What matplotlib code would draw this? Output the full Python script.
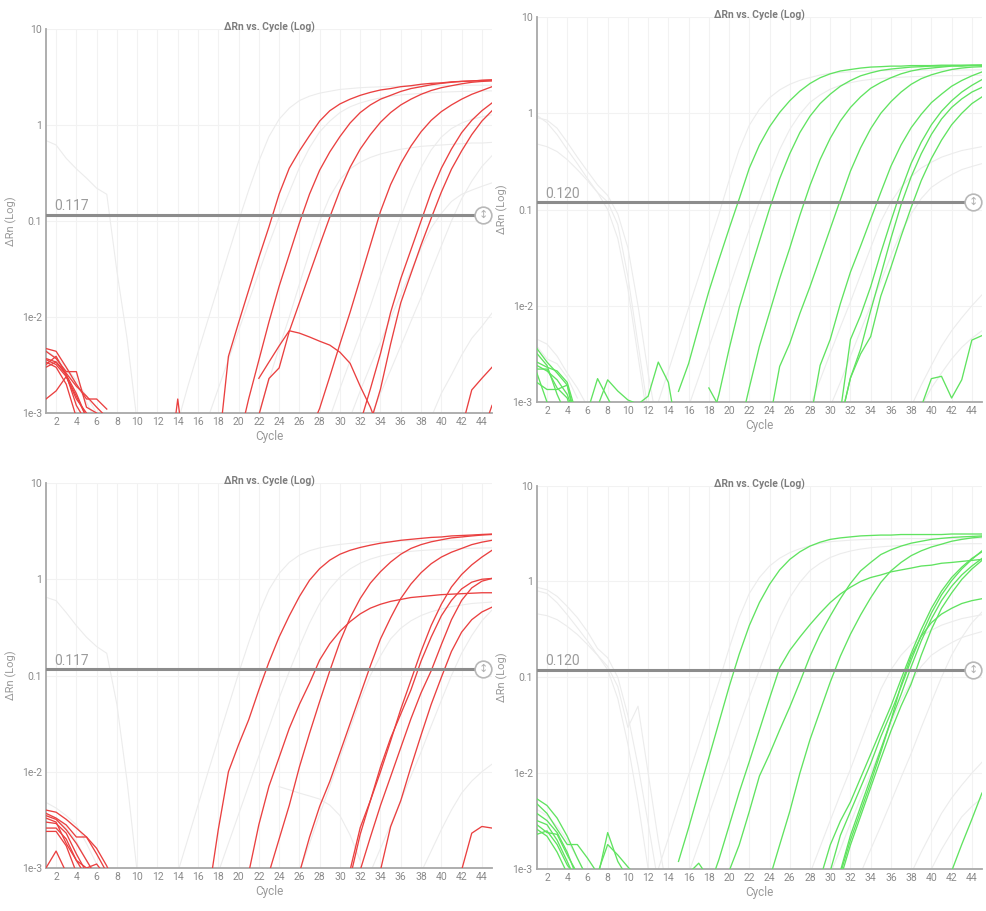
import numpy as np
import matplotlib.pyplot as plt

plt.rcParams['font.family'] = ['Roboto', 'DejaVu Sans']

RED = '#ea4040'
GREEN = '#60e360'
GREY = '#ececec'

title = 'ΔRn vs. Cycle (Log)'
x_ticks = list(range(2, 46, 2))
y_ticks = [1e-3, 1e-2, 0.1, 1, 10]
y_tick_labels = ['1e-3', '1e-2', '0.1', '1', '10']

thresholds = [0.117, 0.120, 0.117, 0.120]
threshold_labels = ['0.117', '0.120', '0.117', '0.120']

# ---- top left (red) : first cycle of each trace, then dRn per cycle
tl_red_start = [18, 20, 22, 27, 32, 33, 22, 42, 44, 13, 1, 1, 1, 1, 1, 1, 1, 1]
tl_red = [
    [4.0e-4, 3.89e-3, 8.71e-3, 0.0191, 0.0417, 0.0871, 0.191, 0.355, 0.537, 0.776, 1.10, 1.41, 1.66, 1.86, 2.04, 2.19, 2.32, 2.40, 2.51, 2.57, 2.66, 2.72, 2.75, 2.82, 2.85, 2.88, 2.92, 2.95],
    [5.0e-4, 1.41e-3, 3.55e-3, 8.91e-3, 0.0209, 0.0447, 0.0955, 0.191, 0.339, 0.525, 0.759, 1.05, 1.35, 1.62, 1.86, 2.04, 2.24, 2.40, 2.51, 2.63, 2.72, 2.79, 2.85, 2.88, 2.92, 2.95],
    [9.5e-4, 2.29e-3, 2.95e-3, 7.08e-3, 0.0141, 0.0282, 0.0562, 0.110, 0.209, 0.363, 0.562, 0.794, 1.07, 1.35, 1.62, 1.86, 2.09, 2.29, 2.45, 2.57, 2.69, 2.79, 2.85, 2.88],
    [6.3e-4, 1.12e-3, 2.40e-3, 5.25e-3, 0.0112, 0.0251, 0.0562, 0.126, 0.240, 0.398, 0.603, 0.851, 1.12, 1.38, 1.62, 1.86, 2.09, 2.29, 2.51],
    [7.9e-4, 1.78e-3, 4.17e-3, 0.0112, 0.0251, 0.0501, 0.100, 0.200, 0.355, 0.562, 0.832, 1.12, 1.41, 1.70],
    [7.9e-4, 1.78e-3, 5.25e-3, 0.0141, 0.0282, 0.0562, 0.107, 0.200, 0.347, 0.537, 0.794, 1.10, 1.41],
    [2.3e-3, 3.4e-3, 5.0e-3, 7.2e-3, 6.8e-3, 6.2e-3, 5.6e-3, 5.1e-3, 4.3e-3, 3.3e-3, 1.9e-3, 1.15e-3, 6e-4],
    [6.9e-4, 1.74e-3, 2.3e-3, 3.0e-3],
    [6e-4, 1.2e-3],
    [2e-4, 1.4e-3, 2e-4],
    [4.7e-3, 4.4e-3, 3.0e-3, 2.0e-3, 1.4e-3, 1.4e-3, 1.1e-3],
    [4.4e-3, 3.7e-3, 2.7e-3, 2.7e-3, 1.15e-3, 1.0e-3],
    [3.7e-3, 3.4e-3, 2.5e-3, 1.6e-3, 9e-4],
    [3.6e-3, 3.2e-3, 2.4e-3, 1.4e-3, 1.0e-3],
    [3.2e-3, 3.9e-3, 2.5e-3, 1.2e-3, 8e-4],
    [1.4e-3, 1.7e-3, 2.4e-3, 1.5e-3, 9e-4],
    [3.4e-3, 3.0e-3, 2.0e-3, 9e-4],
    [3.0e-3, 3.4e-3, 2.6e-3, 1.9e-3, 1.5e-3, 1.15e-3, 9e-4],
]
tl_grey_start = [1, 1, 1, 14, 17, 22, 29, 31, 33, 39]
tl_grey = [
    [0.69, 0.62, 0.45, 0.35, 0.28, 0.22, 0.19, 0.03, 0.006, 8e-4],
    [4.5e-3, 3.8e-3, 3.0e-3, 2.2e-3, 1.5e-3, 1.0e-3, 7e-4],
    [3.2e-3, 3.5e-3, 2.8e-3, 2.0e-3, 1.3e-3, 8e-4],
    [8e-4, 1.9e-3, 4.3e-3, 9.5e-3, 0.021, 0.046, 0.1, 0.21, 0.42, 0.76, 1.15, 1.5, 1.8, 2.0, 2.15, 2.25, 2.35, 2.4, 2.45, 2.48, 2.5, 2.52, 2.54, 2.55, 2.56, 2.57, 2.58, 2.58, 2.59, 2.6, 2.6, 2.6],
    [9e-4, 1.8e-3, 3.6e-3, 7.2e-3, 0.0145, 0.029, 0.058, 0.11, 0.2, 0.36, 0.58, 0.85, 1.1, 1.35, 1.55, 1.7, 1.82, 1.92, 2.0, 2.06, 2.1, 2.14, 2.17, 2.2, 2.22, 2.24, 2.25, 2.26, 2.27],
    [1e-3, 2.2e-3, 4.8e-3, 0.01, 0.022, 0.048, 0.1, 0.18, 0.27, 0.35, 0.41, 0.46, 0.5, 0.53, 0.56, 0.58, 0.6, 0.61, 0.62, 0.63, 0.64, 0.65, 0.65, 0.66],
    [9e-4, 1.8e-3, 3.5e-3, 6.8e-3, 0.013, 0.027, 0.055, 0.11, 0.21, 0.36, 0.55, 0.75, 0.92, 1.05, 1.15, 1.22, 1.28],
    [9e-4, 1.7e-3, 3.1e-3, 5.5e-3, 9.8e-3, 0.017, 0.03, 0.052, 0.085, 0.12, 0.16, 0.19, 0.21, 0.23, 0.25],
    [9e-4, 1.6e-3, 2.8e-3, 5e-3, 9e-3, 0.016, 0.03, 0.055, 0.1, 0.17, 0.26, 0.37, 0.48],
    [9e-4, 1.6e-3, 2.5e-3, 4e-3, 6e-3, 8e-3, 0.011],
]

# ---- top right (green)
tr_green_start = [15, 18, 21, 24, 28, 31, 31, 31, 39, 1, 1, 1, 1, 1, 1, 1, 6, 7, 18]
tr_green = [
    [1.29e-3, 2.51e-3, 6.03e-3, 0.0141, 0.0302, 0.0631, 0.129, 0.269, 0.468, 0.724, 1.02, 1.35, 1.70, 2.04, 2.34, 2.57, 2.75, 2.85, 2.95, 3.02, 3.05, 3.09, 3.09, 3.13, 3.13, 3.13, 3.16, 3.16, 3.16, 3.16, 3.16],
    [5e-4, 1.20e-3, 3.55e-3, 9.55e-3, 0.0214, 0.0468, 0.102, 0.209, 0.380, 0.631, 0.933, 1.26, 1.58, 1.91, 2.19, 2.45, 2.63, 2.79, 2.88, 2.95, 3.02, 3.05, 3.09, 3.09, 3.13, 3.13, 3.16, 3.16],
    [5.0e-4, 1.41e-3, 3.80e-3, 8.51e-3, 0.0191, 0.0398, 0.0871, 0.178, 0.331, 0.550, 0.832, 1.15, 1.48, 1.82, 2.09, 2.34, 2.57, 2.75, 2.88, 2.95, 3.02, 3.09, 3.09, 3.13, 3.16],
    [6.3e-4, 2.34e-3, 4.07e-3, 8.32e-3, 0.0158, 0.0316, 0.0631, 0.126, 0.251, 0.437, 0.692, 1.0, 1.32, 1.66, 2.0, 2.29, 2.51, 2.69, 2.85, 2.95, 3.02, 3.05],
    [6.3e-4, 2.40e-3, 4.47e-3, 0.0105, 0.0224, 0.0417, 0.0794, 0.151, 0.282, 0.468, 0.708, 0.977, 1.29, 1.58, 1.91, 2.19, 2.45, 2.69],
    [7.9e-4, 4.47e-3, 7.94e-3, 0.0158, 0.0355, 0.0759, 0.158, 0.302, 0.501, 0.759, 1.05, 1.35, 1.66, 1.95, 2.24],
    [6.3e-4, 1.78e-3, 3.55e-3, 8.91e-3, 0.0209, 0.0501, 0.112, 0.219, 0.380, 0.603, 0.871, 1.15, 1.41, 1.66, 1.86],
    [6.3e-4, 1.78e-3, 3.16e-3, 4.79e-3, 0.0126, 0.0251, 0.0525, 0.105, 0.200, 0.339, 0.525, 0.759, 1.0, 1.26, 1.48],
    [9e-4, 1.75e-3, 1.85e-3, 1.1e-3, 1.7e-3, 4.4e-3, 4.9e-3],
    [3.6e-3, 2.6e-3, 2.0e-3, 1.5e-3, 6e-4],
    [2.6e-3, 2.3e-3, 2.1e-3, 1.6e-3, 7e-4],
    [2.2e-3, 2.2e-3, 1.4e-3, 1.1e-3, 5e-4],
    [1.6e-3, 1.35e-3, 1.35e-3, 1.5e-3, 5e-4],
    [3.2e-3, 2.4e-3, 1.2e-3, 7e-4],
    [2.0e-3, 1.0e-3, 8e-4],
    [2.4e-3, 2.1e-3, 1.7e-3, 1.2e-3, 6e-4],
    [8e-4, 1.75e-3, 1.1e-3, 7e-4],
    [9e-4, 1.7e-3, 1.3e-3, 1.05e-3, 9.5e-4, 1.15e-3, 2.6e-3, 1.6e-3, 4e-4],
    [1.4e-3, 9e-4],
]
tr_grey_start = [1, 1, 1, 1, 1, 13, 16, 28, 30, 38, 39]
tr_grey = [
    [0.9, 0.85, 0.7, 0.5, 0.35, 0.25, 0.18, 0.14, 0.09, 0.04, 0.01, 0.002, 5e-4],
    [0.48, 0.45, 0.4, 0.33, 0.26, 0.2, 0.15, 0.12, 0.07, 0.02, 0.004, 8e-4],
    [0.95, 0.8, 0.6, 0.42, 0.3, 0.21, 0.15, 0.1, 0.05, 0.015, 0.003, 6e-4],
    [4.5e-3, 4.0e-3, 3.0e-3, 2.0e-3, 1.4e-3, 9e-4],
    [3.8e-3, 2.8e-3, 2.5e-3, 1.8e-3, 1.1e-3],
    [1e-3, 2.1e-3, 4.5e-3, 9.5e-3, 0.02, 0.043, 0.09, 0.2, 0.42, 0.75, 1.1, 1.45, 1.75, 2.0, 2.2, 2.35, 2.5, 2.6, 2.65, 2.7, 2.73, 2.75, 2.77, 2.78, 2.79, 2.8, 2.8, 2.81, 2.81, 2.82, 2.82, 2.82, 2.83],
    [9e-4, 1.8e-3, 3.7e-3, 7.5e-3, 0.015, 0.031, 0.062, 0.12, 0.23, 0.42, 0.68, 0.98, 1.3, 1.55, 1.78, 1.95, 2.08, 2.18, 2.25, 2.3, 2.34, 2.37, 2.4, 2.42, 2.44, 2.45, 2.46, 2.47, 2.48, 2.48],
    [9e-4, 1.7e-3, 3.2e-3, 6e-3, 0.011, 0.021, 0.04, 0.075, 0.12, 0.17, 0.22, 0.27, 0.31, 0.35, 0.38, 0.41, 0.43, 0.45],
    [9e-4, 1.6e-3, 3e-3, 5.5e-3, 0.01, 0.018, 0.033, 0.058, 0.09, 0.13, 0.17, 0.2, 0.23, 0.26, 0.28, 0.3],
    [9e-4, 1.5e-3, 2.4e-3, 3.8e-3, 5.5e-3, 7.5e-3, 0.01, 0.013],
    [9e-4, 1.4e-3, 2e-3, 2.8e-3, 3.7e-3, 4.6e-3, 5.5e-3],
]

# ---- bottom left (red)
bl_red_start = [17, 21, 23, 26, 31, 31, 32, 34, 42, 1, 1, 1, 1, 1, 1, 1, 1]
bl_red = [
    [5.0e-4, 2.51e-3, 0.0100, 0.0191, 0.0347, 0.0708, 0.138, 0.251, 0.417, 0.661, 0.977, 1.29, 1.58, 1.82, 2.0, 2.14, 2.26, 2.37, 2.45, 2.54, 2.60, 2.66, 2.72, 2.75, 2.82, 2.85, 2.88, 2.92, 2.95],
    [8.9e-4, 2.82e-3, 7.08e-3, 0.0141, 0.0282, 0.0501, 0.0832, 0.145, 0.214, 0.288, 0.363, 0.437, 0.501, 0.550, 0.589, 0.617, 0.646, 0.661, 0.676, 0.692, 0.700, 0.708, 0.716, 0.724, 0.724],
    [8.9e-4, 2.0e-3, 4.47e-3, 0.0112, 0.0251, 0.0537, 0.112, 0.224, 0.398, 0.631, 0.912, 1.20, 1.51, 1.82, 2.09, 2.29, 2.45, 2.57, 2.69, 2.75, 2.82, 2.88, 2.92],
    [8.9e-4, 2.09e-3, 4.37e-3, 7.94e-3, 0.0158, 0.0316, 0.0631, 0.126, 0.240, 0.398, 0.631, 0.891, 1.17, 1.45, 1.70, 1.91, 2.09, 2.29, 2.43, 2.54],
    [9.5e-4, 2.63e-3, 5.01e-3, 0.0100, 0.0209, 0.0447, 0.0891, 0.178, 0.331, 0.550, 0.832, 1.12, 1.41, 1.70, 2.0],
    [7.9e-4, 2.24e-3, 5.01e-3, 0.0112, 0.0224, 0.0398, 0.0708, 0.141, 0.251, 0.417, 0.603, 0.794, 0.933, 1.0, 1.02],
    [9.5e-4, 2.09e-3, 4.47e-3, 8.91e-3, 0.0178, 0.0355, 0.0661, 0.112, 0.209, 0.380, 0.603, 0.813, 0.955, 1.02],
    [9.5e-4, 2.69e-3, 5.01e-3, 0.0112, 0.0240, 0.0501, 0.0955, 0.178, 0.282, 0.380, 0.457, 0.513],
    [9.5e-4, 2.3e-3, 2.7e-3, 2.6e-3],
    [4.0e-3, 3.8e-3, 3.2e-3, 2.6e-3, 2.1e-3, 1.6e-3, 1.05e-3, 6e-4],
    [3.7e-3, 3.3e-3, 2.8e-3, 2.1e-3, 2.1e-3, 1.4e-3, 9e-4],
    [3.5e-3, 3.2e-3, 2.5e-3, 1.8e-3, 1.2e-3, 8e-4],
    [3.0e-3, 2.9e-3, 2.3e-3, 1.4e-3, 9e-4],
    [2.6e-3, 2.6e-3, 2.0e-3, 1.2e-3, 8e-4],
    [2.4e-3, 2.4e-3, 1.7e-3, 9e-4],
    [1.0e-3, 1.5e-3, 9e-4],
    [3.3e-3, 3.0e-3, 1.8e-3, 1.2e-3, 1.0e-3, 1.1e-3, 8e-4],
]
bl_grey_start = [1, 1, 1, 14, 18, 24, 26, 33, 38]
bl_grey = [
    [0.65, 0.6, 0.45, 0.33, 0.25, 0.2, 0.17, 0.05, 0.008, 9e-4],
    [4.8e-3, 4.2e-3, 3.5e-3, 2.8e-3, 1.8e-3, 1.1e-3, 7e-4],
    [3.6e-3, 3.3e-3, 2.6e-3, 1.9e-3, 1.2e-3, 8e-4],
    [9e-4, 2e-3, 4.5e-3, 0.01, 0.022, 0.048, 0.105, 0.22, 0.44, 0.78, 1.15, 1.5, 1.78, 1.98, 2.12, 2.22, 2.3, 2.36, 2.4, 2.44, 2.46, 2.48, 2.5, 2.51, 2.52, 2.53, 2.54, 2.55, 2.55, 2.56, 2.56, 2.57],
    [9e-4, 1.8e-3, 3.6e-3, 7.2e-3, 0.0145, 0.029, 0.058, 0.11, 0.2, 0.35, 0.56, 0.8, 1.05, 1.28, 1.47, 1.62, 1.74, 1.83, 1.9, 1.95, 1.99, 2.02, 2.05, 2.07, 2.09, 2.1, 2.11, 2.12],
    [7e-3, 6.5e-3, 6e-3, 5.6e-3, 5.2e-3, 4.5e-3, 3.5e-3, 2.2e-3, 1.2e-3],
    [9e-4, 1.8e-3, 3.6e-3, 7e-3, 0.014, 0.028, 0.055, 0.1, 0.16, 0.24, 0.31, 0.37, 0.42, 0.46, 0.49, 0.52, 0.54, 0.56, 0.57, 0.58],
    [9e-4, 1.6e-3, 2.8e-3, 5e-3, 9e-3, 0.016, 0.03, 0.055, 0.1, 0.17, 0.26, 0.37, 0.48],
    [9e-4, 1.5e-3, 2.5e-3, 4e-3, 6e-3, 8e-3, 0.01, 0.012],
]

# ---- bottom right (green)
br_green_start = [15, 18, 20, 24, 29, 30, 31, 31, 31, 42, 1, 1, 1, 1, 1, 1, 1, 7, 7, 16]
br_green = [
    [1.20e-3, 2.69e-3, 6.31e-3, 0.0145, 0.0339, 0.0794, 0.174, 0.347, 0.603, 0.933, 1.32, 1.70, 2.04, 2.34, 2.57, 2.75, 2.85, 2.92, 2.99, 3.02, 3.05, 3.05, 3.09, 3.09, 3.09, 3.09, 3.09, 3.13, 3.13, 3.13, 3.13],
    [6.3e-4, 1.26e-3, 2.82e-3, 6.31e-3, 0.0132, 0.0282, 0.0603, 0.126, 0.191, 0.263, 0.355, 0.468, 0.603, 0.741, 0.871, 1.0, 1.10, 1.17, 1.26, 1.32, 1.38, 1.45, 1.48, 1.55, 1.58, 1.62, 1.66, 1.70],
    [9.5e-4, 1.78e-3, 3.98e-3, 9.33e-3, 0.0158, 0.0282, 0.0490, 0.0891, 0.166, 0.282, 0.437, 0.661, 0.955, 1.29, 1.58, 1.91, 2.14, 2.34, 2.51, 2.63, 2.75, 2.82, 2.88, 2.92, 2.95, 2.99],
    [7.9e-4, 1.78e-3, 3.98e-3, 0.0100, 0.0224, 0.0447, 0.0891, 0.166, 0.282, 0.447, 0.676, 0.977, 1.29, 1.58, 1.86, 2.09, 2.29, 2.45, 2.63, 2.75, 2.85, 2.92],
    [7.9e-4, 1.78e-3, 3.16e-3, 5.01e-3, 8.91e-3, 0.0158, 0.0282, 0.0501, 0.0955, 0.178, 0.316, 0.525, 0.794, 1.10, 1.41, 1.74, 2.04],
    [9.5e-4, 2.24e-3, 3.98e-3, 7.08e-3, 0.0126, 0.0240, 0.0427, 0.0794, 0.151, 0.275, 0.468, 0.724, 1.02, 1.35, 1.70, 2.09],
    [9.5e-4, 2.24e-3, 4.47e-3, 8.91e-3, 0.0178, 0.0355, 0.0661, 0.129, 0.240, 0.407, 0.631, 0.891, 1.17, 1.45, 1.74],
    [7.9e-4, 1.78e-3, 3.55e-3, 7.08e-3, 0.0141, 0.0275, 0.0501, 0.0851, 0.170, 0.316, 0.525, 0.759, 1.05, 1.35, 1.66],
    [8.9e-4, 2.0e-3, 3.98e-3, 7.94e-3, 0.0166, 0.0355, 0.0832, 0.166, 0.269, 0.372, 0.457, 0.525, 0.589, 0.631, 0.661],
    [9.5e-4, 1.8e-3, 3.3e-3, 6.2e-3],
    [5.4e-3, 4.6e-3, 3.4e-3, 2.2e-3, 1.3e-3, 8e-4],
    [4.8e-3, 3.8e-3, 2.6e-3, 1.8e-3, 1.8e-3, 1.3e-3, 9e-4],
    [3.8e-3, 3.2e-3, 2.4e-3, 1.5e-3, 8e-4],
    [3.2e-3, 2.9e-3, 2.0e-3, 1.2e-3, 7e-4],
    [2.9e-3, 2.4e-3, 2.3e-3, 1.4e-3, 9e-4],
    [2.6e-3, 2.2e-3, 1.5e-3, 9e-4],
    [2.3e-3, 2.5e-3, 1.8e-3, 1.1e-3, 8e-4],
    [8e-4, 2.4e-3, 1.2e-3, 8e-4],
    [9e-4, 1.8e-3, 1.4e-3, 1.05e-3, 8e-4],
    [9e-4, 1.15e-3, 8e-4],
]
br_grey_start = [1, 1, 1, 1, 13, 16, 28, 30, 33, 38, 40]
br_grey = [
    [0.87, 0.82, 0.7, 0.55, 0.42, 0.3, 0.2, 0.16, 0.1, 0.04, 0.012, 0.003, 7e-4],
    [0.46, 0.44, 0.4, 0.34, 0.28, 0.22, 0.17, 0.13, 0.08, 0.03, 0.05, 0.01, 0.002, 5e-4],
    [0.8, 0.75, 0.6, 0.45, 0.33, 0.24, 0.17, 0.12, 0.06, 0.02, 0.005, 0.001],
    [4.2e-3, 3.6e-3, 2.8e-3, 2.0e-3, 1.3e-3, 8e-4],
    [1e-3, 2.1e-3, 4.5e-3, 9.5e-3, 0.02, 0.043, 0.09, 0.2, 0.42, 0.75, 1.1, 1.45, 1.75, 2.0, 2.2, 2.35, 2.5, 2.6, 2.65, 2.7, 2.73, 2.75, 2.77, 2.78, 2.79, 2.8, 2.8, 2.81, 2.81, 2.82, 2.82, 2.82, 2.83],
    [9e-4, 1.8e-3, 3.7e-3, 7.5e-3, 0.015, 0.031, 0.062, 0.12, 0.23, 0.42, 0.68, 0.98, 1.3, 1.55, 1.78, 1.95, 2.08, 2.18, 2.25, 2.3, 2.34, 2.37, 2.4, 2.42, 2.44, 2.45, 2.46, 2.47, 2.48, 2.48],
    [9e-4, 1.7e-3, 3.2e-3, 6e-3, 0.011, 0.021, 0.04, 0.075, 0.12, 0.17, 0.22, 0.27, 0.31, 0.35, 0.38, 0.41, 0.43, 0.45],
    [9e-4, 1.6e-3, 3e-3, 5.5e-3, 0.01, 0.018, 0.033, 0.058, 0.09, 0.13, 0.17, 0.2, 0.23, 0.26, 0.28, 0.3],
    [9e-4, 1.6e-3, 2.8e-3, 5e-3, 9e-3, 0.016, 0.03, 0.055, 0.1, 0.17, 0.26, 0.37, 0.48],
    [9e-4, 1.5e-3, 2.4e-3, 3.8e-3, 5.5e-3, 7.5e-3, 0.01, 0.013],
    [1e-3, 1.6e-3, 2.4e-3, 3.5e-3, 4.5e-3, 5.5e-3],
]


def draw_panel(ax, starts, curves, colour, grey_starts, grey_curves, thr, thr_text):
    for s, v in zip(grey_starts, grey_curves):
        ax.plot(np.arange(s, s + len(v)), v, color=GREY, lw=0.8, zorder=1)
    for s, v in zip(starts, curves):
        ax.plot(np.arange(s, s + len(v)), v, color=colour, lw=0.95, zorder=3)

    ax.set_yscale('log')
    ax.set_xlim(1, 45)
    ax.set_ylim(1e-3, 10)
    ax.set_xticks(x_ticks)
    ax.set_yticks(y_ticks)
    ax.set_yticklabels(y_tick_labels)
    ax.minorticks_off()
    ax.tick_params(length=0, labelsize=7.5, colors='#8a8a8a', pad=3)
    ax.grid(True, color='#f2f2f2', lw=0.8)
    ax.set_axisbelow(True)
    for side in ['top', 'right']:
        ax.spines[side].set_visible(False)
    for side in ['left', 'bottom']:
        ax.spines[side].set_color('#a8a8a8')
        ax.spines[side].set_linewidth(1.3)
    ax.set_xlabel('Cycle', fontsize=8.5, color='#999999', labelpad=2)
    ax.set_ylabel('ΔRn (Log)', fontsize=8, color='#999999', labelpad=3)
    ax.text(0.5, 1.004, title, transform=ax.transAxes, ha='center', va='center',
            fontsize=7.4, fontweight='bold', color='#7d7d7d')

    # threshold line with its drag handle
    trans = ax.get_yaxis_transform()
    ax.plot([0, 0.965], [thr, thr], color='#8c8c8c', lw=2.2, transform=trans, zorder=4)
    ax.plot([0.98], [thr], 'o', ms=12, mfc='white', mec='#b8b8b8', mew=1.2,
            transform=trans, zorder=5, clip_on=False)
    ax.text(0.98, thr, '↕', transform=trans, ha='center', va='center',
            fontsize=8, color='#b0b0b0', zorder=6)
    ax.annotate(thr_text, (0.018, thr), xycoords=trans, xytext=(0, 1),
                textcoords='offset points', fontsize=10, color='#9c9c9c', va='bottom')


fig = plt.figure(figsize=(9.86, 9.11), dpi=100)
ax_tl = fig.add_axes([0.0466, 0.5466, 0.4524, 0.4215])
ax_tr = fig.add_axes([0.5445, 0.5587, 0.4514, 0.4226])
ax_bl = fig.add_axes([0.0466, 0.0472, 0.4524, 0.4226])
ax_br = fig.add_axes([0.5445, 0.0461, 0.4514, 0.4208])

draw_panel(ax_tl, tl_red_start, tl_red, RED, tl_grey_start, tl_grey, thresholds[0], threshold_labels[0])
draw_panel(ax_tr, tr_green_start, tr_green, GREEN, tr_grey_start, tr_grey, thresholds[1], threshold_labels[1])
draw_panel(ax_bl, bl_red_start, bl_red, RED, bl_grey_start, bl_grey, thresholds[2], threshold_labels[2])
draw_panel(ax_br, br_green_start, br_green, GREEN, br_grey_start, br_grey, thresholds[3], threshold_labels[3])

fig.savefig('out.png', dpi=100)
